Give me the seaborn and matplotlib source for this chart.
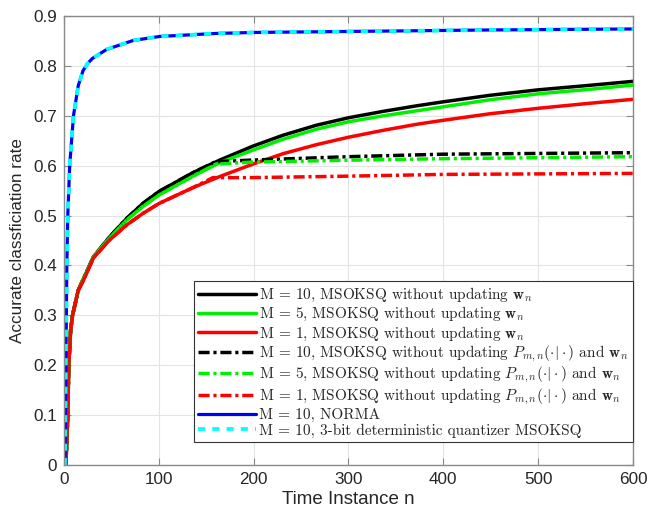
import matplotlib
matplotlib.use("Agg")
import matplotlib.pyplot as plt
import seaborn as sns

# ---------------- data ----------------
n_solid = [2, 4, 5, 7, 9, 15, 20, 31, 48, 66, 83, 100, 136, 164, 199, 231, 266, 300, 337, 372, 400, 449, 500, 554, 600]
black_solid = [0, 0.10, 0.20, 0.27, 0.30, 0.35, 0.371, 0.417, 0.457, 0.494, 0.524, 0.548, 0.586, 0.611, 0.639, 0.661, 0.681, 0.696, 0.709, 0.720, 0.728, 0.741, 0.752, 0.761, 0.769]
green_solid = [0, 0.10, 0.20, 0.27, 0.30, 0.35, 0.371, 0.417, 0.455, 0.491, 0.518, 0.541, 0.579, 0.606, 0.631, 0.653, 0.673, 0.688, 0.700, 0.710, 0.718, 0.732, 0.744, 0.753, 0.7615]
red_solid = [0, 0.10, 0.20, 0.27, 0.30, 0.35, 0.368, 0.415, 0.451, 0.481, 0.504, 0.524, 0.556, 0.578, 0.603, 0.624, 0.642, 0.657, 0.671, 0.683, 0.691, 0.704, 0.715, 0.725, 0.733]

n_black_dd = [2, 4, 5, 7, 9, 15, 20, 31, 48, 66, 83, 100, 136, 160, 196, 300, 400, 500, 600]
black_dd = [0, 0.10, 0.20, 0.27, 0.30, 0.35, 0.371, 0.417, 0.457, 0.494, 0.524, 0.548, 0.586, 0.608, 0.611, 0.618, 0.623, 0.6245, 0.626]
n_green_dd = [2, 4, 5, 7, 9, 15, 20, 31, 48, 66, 83, 100, 136, 160, 196, 300, 400, 500, 600]
green_dd = [0, 0.10, 0.20, 0.27, 0.30, 0.35, 0.371, 0.417, 0.455, 0.491, 0.518, 0.541, 0.579, 0.603, 0.607, 0.611, 0.614, 0.616, 0.618]
n_red_dd = [2, 4, 5, 7, 9, 15, 20, 31, 48, 66, 83, 100, 136, 157, 196, 300, 400, 500, 600]
red_dd = [0, 0.10, 0.20, 0.27, 0.30, 0.35, 0.368, 0.415, 0.451, 0.481, 0.504, 0.524, 0.556, 0.576, 0.576, 0.579, 0.5825, 0.5835, 0.5845]

n_norma = [1, 2, 3, 4, 6, 10, 15, 20, 25, 30, 45, 73, 101, 160, 200, 300, 450, 600]
norma = [0.0, 0.20, 0.40, 0.50, 0.60, 0.70, 0.76, 0.79, 0.805, 0.815, 0.833, 0.851, 0.859, 0.865, 0.867, 0.869, 0.872, 0.874]
quant = [0.0, 0.20, 0.40, 0.50, 0.60, 0.70, 0.76, 0.79, 0.805, 0.815, 0.833, 0.851, 0.859, 0.865, 0.867, 0.869, 0.872, 0.874]

labels = [
    r"M = 10, MSOKSQ without updating $\mathbf{w}_n$",
    r"M = 5, MSOKSQ without updating $\mathbf{w}_n$",
    r"M = 1, MSOKSQ without updating $\mathbf{w}_n$",
    r"M = 10, MSOKSQ without updating $P_{m,n}(\cdot|\cdot)$ and $\mathbf{w}_n$",
    r"M = 5, MSOKSQ without updating $P_{m,n}(\cdot|\cdot)$ and $\mathbf{w}_n$",
    r"M = 1, MSOKSQ without updating $P_{m,n}(\cdot|\cdot)$ and $\mathbf{w}_n$",
    r"M = 10, NORMA",
    r"M = 10, 3-bit deterministic quantizer MSOKSQ",
]
x_ticks = [0, 100, 200, 300, 400, 500, 600]
y_ticks = [0, 0.1, 0.2, 0.3, 0.4, 0.5, 0.6, 0.7, 0.8, 0.9]
y_tick_labels = ["0", "0.1", "0.2", "0.3", "0.4", "0.5", "0.6", "0.7", "0.8", "0.9"]

# ---------------- style ----------------
sns.set_theme(style="white")
plt.rcParams["font.family"] = ["Liberation Sans", "DejaVu Sans"]
plt.rcParams["mathtext.fontset"] = "cm"

fig = plt.figure(figsize=(6.49, 5.16), dpi=100)
ax = fig.add_axes([0.0986, 0.0988, 0.8767, 0.8702])

dd = (3.2, 1.1, 0.9, 1.1)
lw = 2.5
series = [
    (n_solid, black_solid, "black", None, labels[0]),
    (n_solid, green_solid, "#00ee00", None, labels[1]),
    (n_solid, red_solid, "#ff0000", None, labels[2]),
    (n_black_dd, black_dd, "black", dd, labels[3]),
    (n_green_dd, green_dd, "#00ee00", dd, labels[4]),
    (n_red_dd, red_dd, "#ff0000", dd, labels[5]),
]
for xs, ys, c, dsh, lab in series:
    sns.lineplot(x=xs, y=ys, ax=ax, color=c, linewidth=lw, label=lab, sort=True, estimator=None)
    line = ax.get_lines()[-1]
    if dsh is not None:
        line.set_dashes(dsh)

sns.lineplot(x=n_norma, y=norma, ax=ax, color="#0000ff", linewidth=2.3, label=labels[6], estimator=None)
sns.lineplot(x=n_norma, y=quant, ax=ax, color="#00ffff", linewidth=2.7, label=labels[7], estimator=None)
ax.get_lines()[-1].set_dashes((1.9, 1.9))

ax.set_xlim(0, 600)
ax.set_ylim(0, 0.9)
ax.set_xticks(x_ticks)
ax.set_xticklabels([str(t) for t in x_ticks])
ax.set_yticks(y_ticks)
ax.set_yticklabels(y_tick_labels)
ax.grid(True, color="#e3e3e3", linewidth=0.8)
ax.set_axisbelow(True)
for s in ax.spines.values():
    s.set_color("#8a8a8a")
    s.set_linewidth(1.0)
ax.tick_params(axis="both", which="both", direction="in", length=5, width=0.8,
               color="#8a8a8a", labelsize=12.3, labelcolor="#262626",
               top=True, right=True, bottom=True, left=True, pad=5)

ax.set_xlabel("Time Instance n", fontsize=13.5, color="#262626", labelpad=3)
ax.set_ylabel("Accurate classficiation rate", fontsize=12.3, color="#262626", labelpad=6)

leg = ax.legend(loc="lower right", bbox_to_anchor=(1.0, 0.051), borderaxespad=0,
                prop={"family": "cmr10", "size": 11}, handlelength=3.75,
                handletextpad=0.2, labelspacing=0.08, borderpad=0.3,
                fancybox=False, framealpha=1, edgecolor="#333333")
leg.get_frame().set_linewidth(0.8)

fig.savefig("out.png", dpi=100)
